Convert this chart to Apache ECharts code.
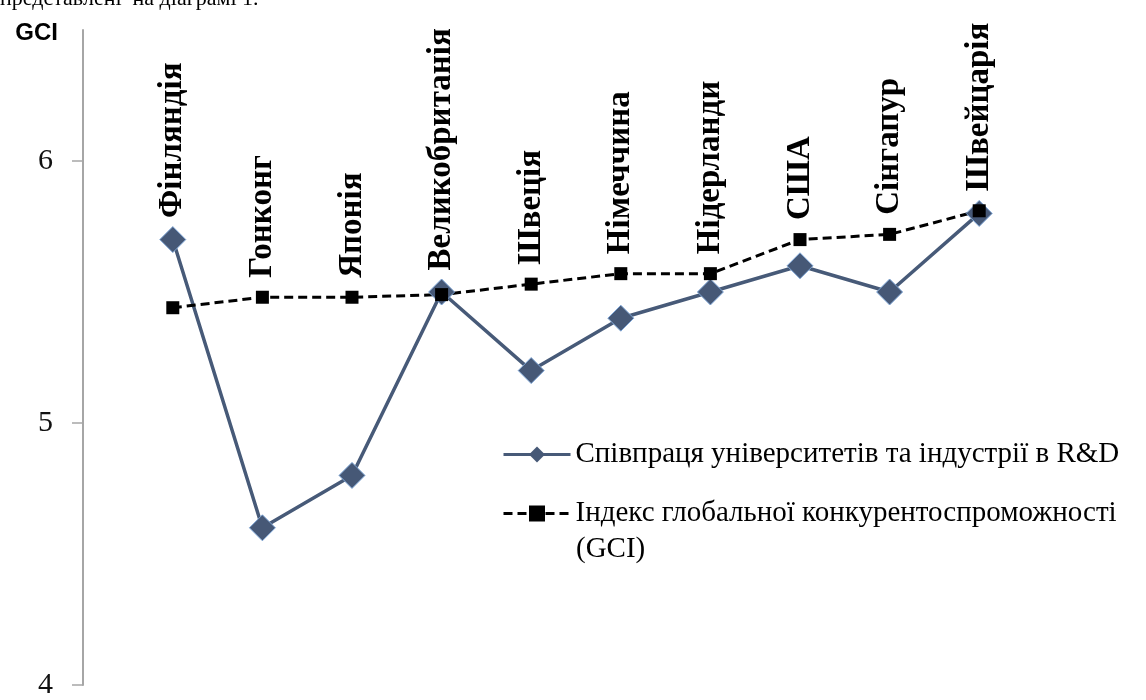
<!DOCTYPE html>
<html>
<head>
<meta charset="utf-8">
<script src="https://cdn.jsdelivr.net/npm/echarts@6/dist/echarts.min.js"></script>
<style>
    html, body { margin: 0; padding: 0; background: #fff; }
    #chart { width: 1146px; height: 700px; }
</style>
</head>
<body>
<div id="chart"></div>
<script>
var countries = ['Фінляндія', 'Гонконг', 'Японія', 'Великобританія', 'Швеція',
    'Німеччина', 'Нідерланди', 'США', 'Сінгапур', 'Швейцарія'];
var rdValues = [5.7, 4.6, 4.8, 5.5, 5.2, 5.4, 5.5, 5.6, 5.5, 5.8];
var gciValues = [5.44, 5.48, 5.48, 5.49, 5.53, 5.57, 5.57, 5.70, 5.72, 5.81];
var yTicks = [4, 5, 6];
var rdName = 'Співпраця університетів та індустрії в R&D';
var gciName = 'Індекс глобальної конкурентоспроможності (GCI)';

var chartDom = document.getElementById('chart');
var myChart = echarts.init(chartDom);

var labelStyle = {
    show: true,
    position: 'top',
    formatter: '{b}',
    rotate: 90,
    align: 'left',
    verticalAlign: 'middle',
    fontFamily: 'Liberation Serif',
    fontWeight: 'bold',
    fontSize: 33,
    color: '#000'
};

// the country name goes above whichever point is higher
var rdData = [];
var gciData = [];
for (let i = 0; i < countries.length; i++) {
    var rdTop = rdValues[i] > gciValues[i];
    rdData.push({
        value: rdValues[i],
        label: rdTop ? Object.assign({}, labelStyle, {distance: 8}) : {show: false}
    });
    gciData.push({
        value: gciValues[i],
        label: rdTop ? {show: false} : Object.assign({}, labelStyle, {distance: 13})
    });
}

var option = {
    animation: false,
    grid: {
        left: 128,
        right: 122,
        top: 30,
        bottom: 12
    },
    legend: {
        orient: 'vertical',
        left: 497,
        top: 435,
        itemWidth: 67,
        itemHeight: 20,
        itemGap: 30,
        itemStyle: {borderWidth: 0},
        lineStyle: {width: 3},
        textStyle: {
            fontFamily: 'Liberation Serif',
            fontSize: 29,
            color: '#000'
        },
        formatter: function (name) {
            return name.replace(' (GCI)', '');
        },
        data: [rdName, gciName]
    },
    graphic: [
        {
            type: 'text',
            left: 576,
            top: 535,
            style: {
                text: '(GCI)',
                font: '29px "Liberation Serif"',
                fill: '#000'
            }
        },
        {
            type: 'text',
            left: 0,
            top: -12,
            style: {
                text: 'представлені  на діаграмі 1.',
                font: '22px "Liberation Serif"',
                fill: '#000'
            }
        }
    ],
    xAxis: {
        type: 'category',
        show: false,
        boundaryGap: true,
        data: countries
    },
    yAxis: {
        type: 'value',
        min: 4,
        max: 6.5,
        interval: 1,
        offset: 45,
        name: 'GCI',
        nameLocation: 'end',
        nameGap: -3,
        nameTextStyle: {
            fontFamily: 'Liberation Sans',
            fontWeight: 'bold',
            fontSize: 24,
            color: '#000',
            align: 'right',
            verticalAlign: 'middle',
            padding: [0, 25, 0, 0]
        },
        axisLine: {
            show: true,
            lineStyle: {color: '#a6a6a6', width: 2}
        },
        axisTick: {
            show: true,
            length: 11,
            customValues: yTicks,
            lineStyle: {color: '#a6a6a6', width: 1.5}
        },
        axisLabel: {
            customValues: yTicks,
            margin: 30,
            fontFamily: 'Liberation Serif',
            fontSize: 30,
            color: '#111'
        },
        splitLine: {show: false}
    },
    series: [
        {
            name: rdName,
            type: 'line',
            data: rdData,
            symbol: 'diamond',
            symbolSize: 26,
            lineStyle: {color: '#475a78', width: 3.5},
            itemStyle: {color: '#465876', borderColor: '#7fa6d6', borderWidth: 1}
        },
        {
            name: gciName,
            type: 'line',
            data: gciData,
            symbol: 'rect',
            symbolSize: 13,
            z: 3,
            lineStyle: {color: '#000', width: 3, type: [9, 5]},
            itemStyle: {color: '#000'}
        }
    ]
};

option && myChart.setOption(option);
window.addEventListener('resize', myChart.resize);
</script>
</body>
</html>
